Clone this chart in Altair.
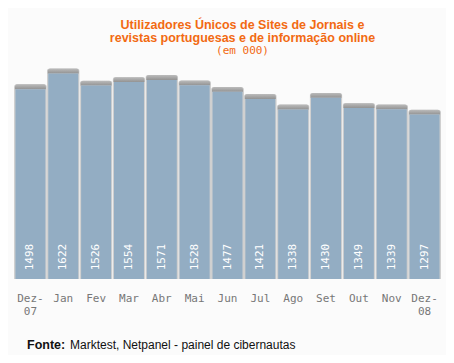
import altair as alt
import pandas as pd

months = ["Dez-\n07", "Jan", "Fev", "Mar", "Abr", "Mai", "Jun", "Jul", "Ago", "Set", "Out", "Nov", "Dez-\n08"]
values = [1498, 1622, 1526, 1554, 1571, 1528, 1477, 1421, 1338, 1430, 1349, 1339, 1297]
title_lines = ["Utilizadores Únicos de Sites de Jornais e", "revistas portuguesas e de informação online"]
subtitle = "(em 000)"
source_bold = ["Fonte:"]
source_text = ["Marktest, Netpanel - painel de cibernautas"]

df = pd.DataFrame({"mes": months, "valor": values})

W, H = 427, 218
ORANGE = "#f26a12"

yscale = alt.Scale(domain=[0, 1720])
x = alt.X(
    "mes:N",
    sort=months,
    scale=alt.Scale(paddingInner=0.086, paddingOuter=0.043),
    axis=alt.Axis(
        title=None, labelAngle=0, domain=False, ticks=False, grid=False,
        labelFont="DejaVu Sans Mono", labelFontSize=11, labelColor="#777777",
        labelPadding=13, labelExpr="split(datum.label, '\\n')", labelLineHeight=13,
        labelBaseline="top",
    ),
)

base = alt.Chart(df)

shadow = base.transform_calculate(top="datum.valor + 40").mark_bar(
    size=33, color="#d0d0d0", cornerRadiusTopLeft=3, cornerRadiusTopRight=3
).encode(x=x, y=alt.Y("top:Q", scale=yscale, axis=None))

cap = base.transform_calculate(top="datum.valor + 38").mark_bar(
    size=31,
    color=alt.Gradient(
        gradient="linear", x1=0, x2=0, y1=0, y2=1,
        stops=[alt.GradientStop(color="#bbbbbb", offset=0), alt.GradientStop(color="#939393", offset=1)],
    ),
    cornerRadiusTopLeft=3, cornerRadiusTopRight=3,
).encode(x=x, y=alt.Y("top:Q", scale=yscale, axis=None), y2=alt.Y2("valor:Q"))

bars = base.mark_bar(size=30, color="#93adc3").encode(
    x=x, y=alt.Y("valor:Q", scale=yscale, axis=None)
)

labels = base.mark_text(
    angle=270, color="white", font="DejaVu Sans Mono", fontSize=11,
    align="center", baseline="middle",
).encode(x=x, y=alt.value(H - 22), text="valor:Q")

foot1 = alt.Chart(pd.DataFrame({"t": source_bold})).mark_text(
    align="left", baseline="middle", font="Liberation Sans", fontSize=12.5,
    fontWeight="bold", color="#111111",
).encode(x=alt.value(13), y=alt.value(284), text="t:N")

foot2 = alt.Chart(pd.DataFrame({"t": source_text})).mark_text(
    align="left", baseline="middle", font="Liberation Sans", fontSize=12,
    color="#111111",
).encode(x=alt.value(56), y=alt.value(284), text="t:N")

chart = alt.layer(shadow, cap, bars, labels, foot1, foot2).properties(
    width=W,
    height=H,
    title=alt.TitleParams(
        text=title_lines, subtitle=subtitle, color=ORANGE, font="Liberation Sans",
        fontSize=12.5, fontWeight="bold", lineHeight=13, anchor="middle", dx=15,
        subtitleColor=ORANGE, subtitleFont="DejaVu Sans Mono", subtitleFontSize=11,
        subtitlePadding=1, offset=5,
    ),
    autosize=alt.AutoSizeParams(type="none"),
    padding={"left": 6, "top": 53, "right": 5, "bottom": 76},
    background="#fbfbfb",
).configure_view(stroke=None)

chart.save("out.html", embed_options={"renderer": "svg", "actions": False})
